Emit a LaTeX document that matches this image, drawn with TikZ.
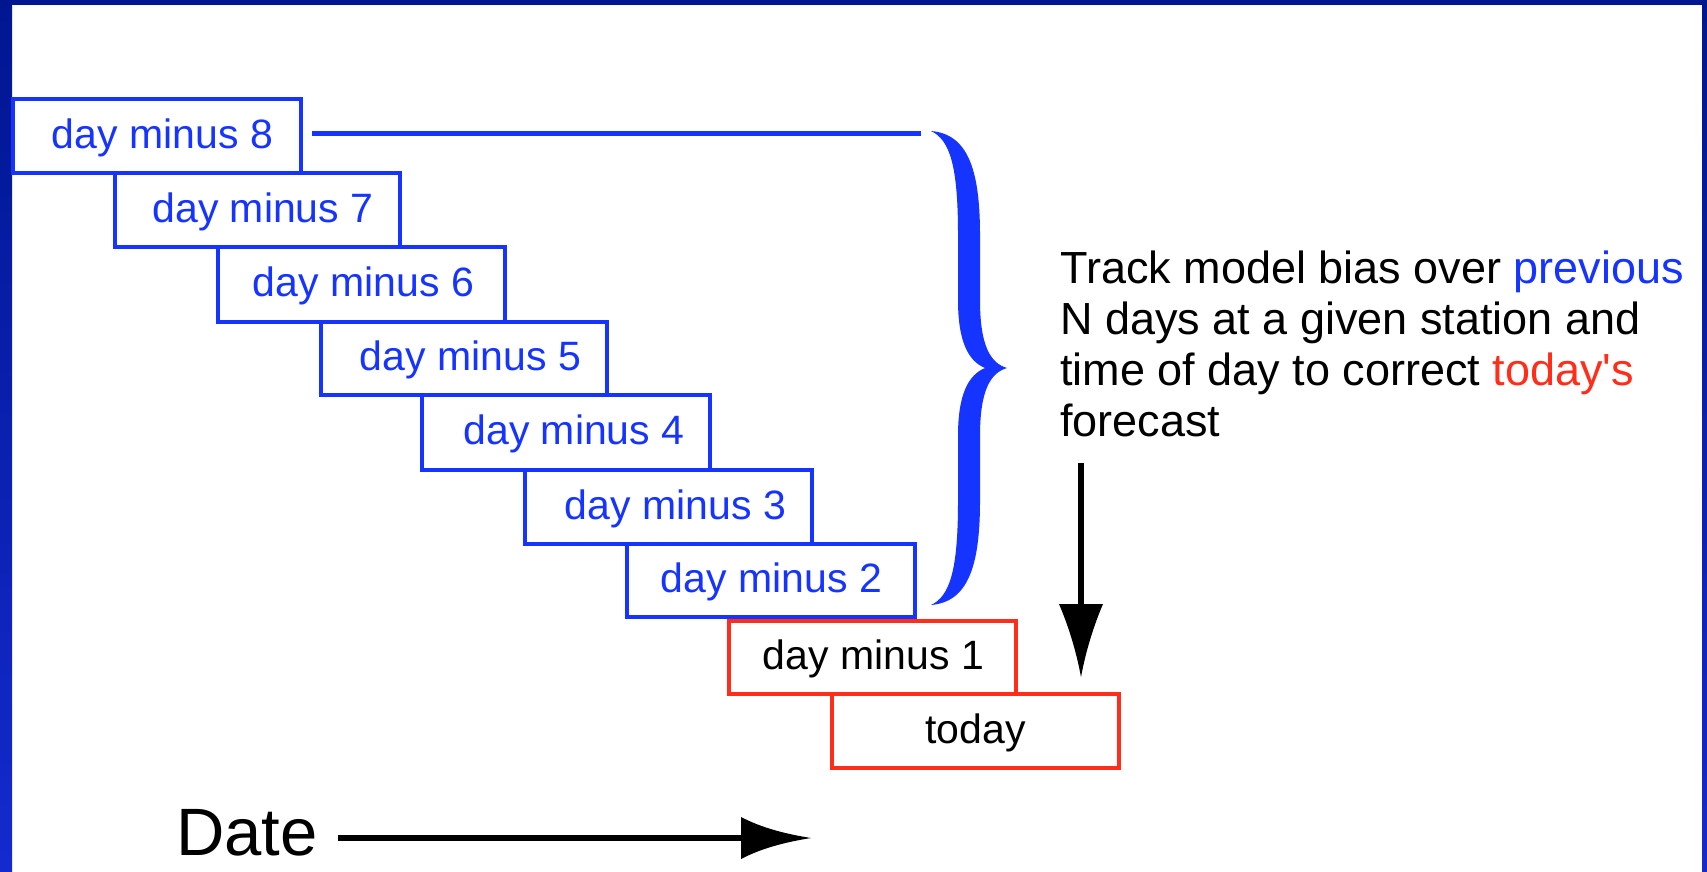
\documentclass[tikz,border=0pt]{standalone}
\usepackage{fontspec}
\setmainfont{Liberation Sans}[Ligatures=TeXOff]
\definecolor{dayblue}{RGB}{22,52,255}
\definecolor{dayred}{RGB}{255,45,25}
\definecolor{navytop}{RGB}{0,22,145}
\definecolor{navybot}{RGB}{20,42,205}
\begin{document}
\begin{tikzpicture}[x=1pt,y=-1pt,
  daybox/.style={draw, line width=3.5pt, inner sep=0pt, text height=30pt, text depth=6pt,
                 font=\fontsize{41}{48}\selectfont},
  bluebox/.style={daybox, draw=dayblue, text=dayblue},
  redbox/.style={daybox, draw=dayred, text=black},
  tshift/.style={execute at begin node={\hspace*{#1}}},
  bracefill/.style={fill=dayblue},
  arrowline/.style={draw=black, line width=6pt},
  headfill/.style={fill=black},
]
\useasboundingbox (0,0) rectangle (1707,871);
\fill[white] (0,0) rectangle (1707,871);
\shade[top color=navytop, bottom color=navybot] (0,0) rectangle (12,871);
\shade[top color=navytop, bottom color=navybot] (1702,0) rectangle (1707,871);
\fill[navytop] (0,0) rectangle (1707,5);

% day boxes
\node[bluebox, tshift=11pt, minimum width=288pt, minimum height=74pt] (b8) at (157,136)     {day minus 8};
\node[bluebox, tshift=11pt, minimum width=285pt, minimum height=74pt] (b7) at (257.5,210)   {day minus 7};
\node[bluebox, tshift=4pt,  minimum width=287pt, minimum height=75pt] (b6) at (361.5,284.5) {day minus 6};
\node[bluebox, tshift=13pt, minimum width=286pt, minimum height=73pt] (b5) at (464,358.5)   {day minus 5};
\node[bluebox, tshift=16pt, minimum width=288pt, minimum height=75pt] (b4) at (566,432.5)   {day minus 4};
\node[bluebox, tshift=14pt, minimum width=287pt, minimum height=74pt] (b3) at (668.5,507)   {day minus 3};
\node[bluebox, tshift=1pt,  minimum width=288pt, minimum height=73pt] (b2) at (771,580.5)   {day minus 2};
\node[redbox,  tshift=2pt,  minimum width=287pt, minimum height=73pt] (b1) at (872.5,657.5) {day minus 1};
\node[redbox,               minimum width=287pt, minimum height=74pt] (b0) at (975.5,731)   {today};

% line from day minus 8 to brace
\coordinate (lend) at (921,133);
\draw[dayblue, line width=5pt] ([xshift=9pt,yshift=3pt]b8.east) -- (lend);

% brace
\fill[bracefill] (931,131) .. controls (968,134) and (980,170) .. (980,235)
  -- (980,300) .. controls (980,345) and (990,363) .. (1007,368)
  .. controls (990,373) and (980,391) .. (980,436)
  -- (980,501) .. controls (980,566) and (968,602) .. (931,605)
  .. controls (950,596) and (958,570) .. (958,501)
  -- (958,436) .. controls (958,395) and (968,375) .. (985,368)
  .. controls (968,361) and (958,341) .. (958,300)
  -- (958,235) .. controls (958,166) and (950,140) .. (931,131) -- cycle;

% explanation text
\node[anchor=north west, align=left, inner sep=0pt, font=\fontsize{45}{51}\selectfont] (txt) at (1060,250.8)
  {Track model bias over \textcolor{dayblue}{previous}\\
   N days at a given station and\\
   time of day to correct \textcolor{dayred}{today's}\\
   forecast};

% down arrow
\coordinate (dtop) at (1081,463);
\coordinate (dbase) at (1081,606);
\draw[arrowline] (dtop) -- (dbase);
\fill[headfill] (1059,604) .. controls (1068,625) and (1076,650) .. (1081,677)
  .. controls (1086,650) and (1094,625) .. (1103,604) -- cycle;

% Date arrow
\node[anchor=base west, inner sep=0pt, font=\fontsize{67}{75}\selectfont] (date) at (176,855) {Date};
\coordinate (dabase) at (745,838);
\draw[arrowline, line width=5.5pt] ([xshift=20pt]date.east |- dabase) -- (dabase);
\fill[headfill] (741,817) .. controls (762,828) and (786,834) .. (811,838)
  .. controls (786,842) and (762,848) .. (741,859) -- cycle;
\end{tikzpicture}
\end{document}
